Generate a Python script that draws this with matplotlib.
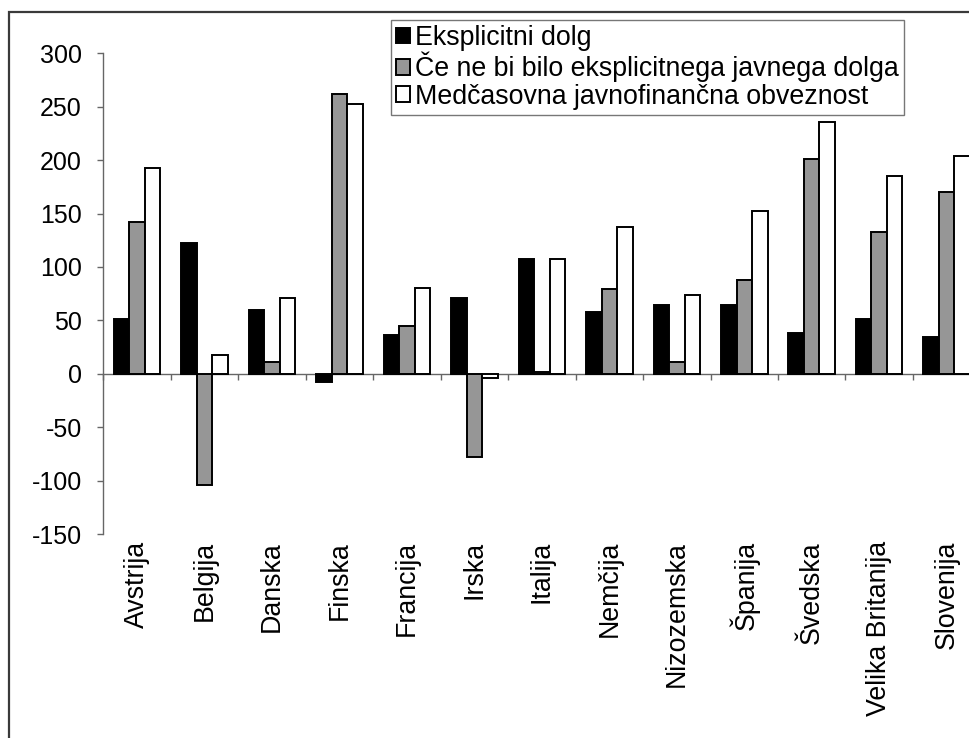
import matplotlib
matplotlib.use("Agg")
import matplotlib.pyplot as plt
import numpy as np
from matplotlib.patches import Rectangle

plt.rcParams['font.family'] = ['Liberation Sans', 'DejaVu Sans']
plt.rcParams['axes.unicode_minus'] = False

countries = ["Avstrija", "Belgija", "Danska", "Finska", "Francija", "Irska",
             "Italija", "Nemčija", "Nizozemska", "Španija", "Švedska",
             "Velika Britanija", "Slovenija"]
explicit_debt = [51, 122, 60, -8, 36, 71, 107, 58, 64, 64, 38, 51, 34]
without_explicit = [142, -104, 11, 262, 45, -78, 1.5, 79, 11, 88, 201, 133, 170]
intertemporal = [193, 18, 71, 253, 80, -4, 107, 137, 74, 152, 236, 185, 204]
series_labels = ["Eksplicitni dolg",
                 "Če ne bi bilo eksplicitnega javnega dolga",
                 "Medčasovna javnofinančna obveznost"]
y_ticks = [-150, -100, -50, 0, 50, 100, 150, 200, 250, 300]

W, H = 970, 738
fig = plt.figure(figsize=(W / 100, H / 100), dpi=100)

# outer chart frame (top and left edges visible)
fig.add_artist(Rectangle((9.5 / W, -0.2), 1.5, 1 - 12 / H + 0.2,
                         transform=fig.transFigure, fill=False,
                         edgecolor='#3a3a3a', linewidth=1.6))

ax_left, ax_top, ax_bottom = 103.5, 53.3, 534.0
cat_w = 67.45
ax = fig.add_axes([ax_left / W, 1 - ax_bottom / H,
                   13 * cat_w / W, (ax_bottom - ax_top) / H])

x = np.arange(len(countries))
bw = 0.23
kw = dict(width=bw, edgecolor='black', linewidth=1.4, zorder=3)
b1 = ax.bar(x - bw, explicit_debt, color='black', label=series_labels[0], **kw)
b2 = ax.bar(x, without_explicit, color='#969696', label=series_labels[1], **kw)
b3 = ax.bar(x + bw, intertemporal, color='white', label=series_labels[2], **kw)

ax.set_xlim(-0.5, len(countries) - 0.5)
ax.set_ylim(-150, 300)

axis_col = '#666666'
for s in ['top', 'right', 'bottom']:
    ax.spines[s].set_visible(False)
ax.spines['left'].set_color(axis_col)
ax.spines['left'].set_linewidth(1.0)

ax.set_yticks(y_ticks)
ax.set_yticklabels([str(v) for v in y_ticks])
ax.tick_params(axis='y', direction='out', length=4.5, width=1.0,
               color=axis_col, labelsize=18, pad=11)

ax.set_xticks(x)
ax.set_xticklabels(countries, rotation=90)
ax.tick_params(axis='x', length=0, labelsize=19.3, pad=5)

# category axis crossing at zero with boundary ticks
zero_frac = 150 / 450
sec = ax.secondary_xaxis(zero_frac)
sec.xaxis.set_ticks_position('bottom')
sec.set_xticks(np.arange(len(countries) + 1) - 0.5)
sec.set_xticklabels([])
sec.tick_params(axis='x', direction='out', length=4.5, width=1.0,
                color=axis_col, labelbottom=False, labeltop=False,
                bottom=True, top=False)
for s in sec.spines.values():
    s.set_visible(False)
sec.spines['bottom'].set_visible(True)
sec.spines['bottom'].set_color(axis_col)
sec.spines['bottom'].set_linewidth(1.0)

leg = fig.legend(handles=[b1, b2, b3], loc='upper left',
                 bbox_to_anchor=(391 / W, 1 - 19.5 / H),
                 bbox_transform=fig.transFigure, frameon=True,
                 fancybox=False, shadow=False, fontsize=19.3,
                 handlelength=0.5, handleheight=0.5, handletextpad=0.2,
                 labelspacing=0.04, borderpad=0.2, borderaxespad=0)
leg.get_frame().set_edgecolor('#555555')
leg.get_frame().set_linewidth(1.0)

fig.savefig("out.png", dpi=100)
